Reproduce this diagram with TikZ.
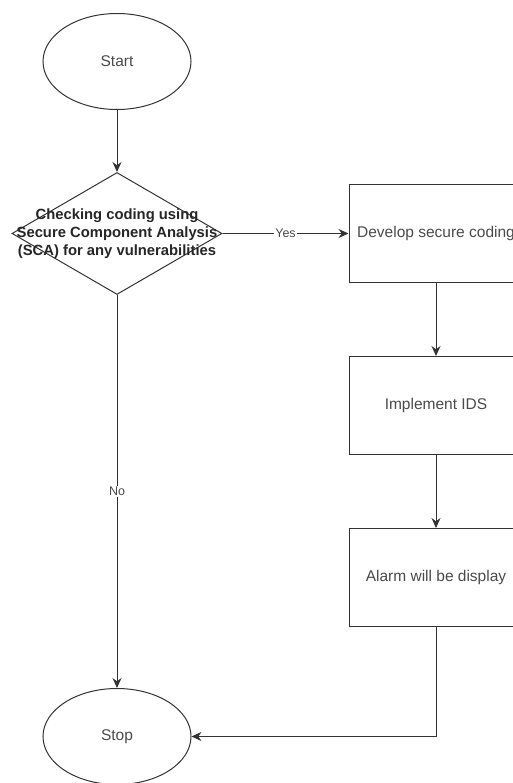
\documentclass[tikz,border=0pt]{standalone}
\usepackage{fontspec}
\setmainfont{Liberation Sans}
\usetikzlibrary{shapes.geometric,arrows.meta}

\definecolor{linegray}{HTML}{333333}
\definecolor{textgray}{HTML}{4A4A4A}

\begin{document}
\begin{tikzpicture}[
                    node distance=172pt,
                    every node/.style={
                        draw=linegray,
                        line width=1pt,
                        text=textgray,
                        font=\fontsize{15.5}{18}\selectfont
                    },
                    terminal/.style={ellipse, minimum width=148pt, minimum height=96pt},
                    process/.style={rectangle, minimum width=174pt, minimum height=98pt},
                    decision/.style={diamond, minimum width=210pt, minimum height=122pt, inner sep=0pt},
                    edgelabel/.style={draw=none, fill=white, inner sep=1pt, font=\fontsize{12.5}{14}\selectfont},
                    flow/.style={draw=linegray, line width=1pt, -{Stealth[length=10pt,width=9pt]}}
                ]
                    \clip (-117pt,61.5pt) rectangle (396pt,-721.5pt);

                    \node[terminal] (start) {Start};
                    \node[decision] (check) [below of=start] {};
                    \node[draw=none, align=center, text=black!85,
                          font=\bfseries\fontsize{14.8}{18}\selectfont] (checktext) at (check)
                          {Checking coding using\\Secure Component Analysis\\(SCA) for any vulnerabilities};
                    \node[process] (develop) [node distance=319pt, right of=check] {Develop secure coding};
                    \node[process] (implement) [below of=develop] {Implement IDS};
                    \node[process] (alarm) [below of=implement] {Alarm will be display};
                    \node[terminal] (stop) [node distance=503pt, below of=check] {Stop};

                    % Edges
                    \draw[flow] (start) -- (check);
                    \draw[flow] (check.east) -- node[edgelabel] (yes) {Yes} (develop.west);
                    \draw[flow] (check.south) -- node[edgelabel] (no) {No} (stop.north);
                    \draw[flow] (develop) -- (implement);
                    \draw[flow] (implement) -- (alarm);
                    \draw[flow] (alarm.south) |- (stop.east);
                \end{tikzpicture}
\end{document}
